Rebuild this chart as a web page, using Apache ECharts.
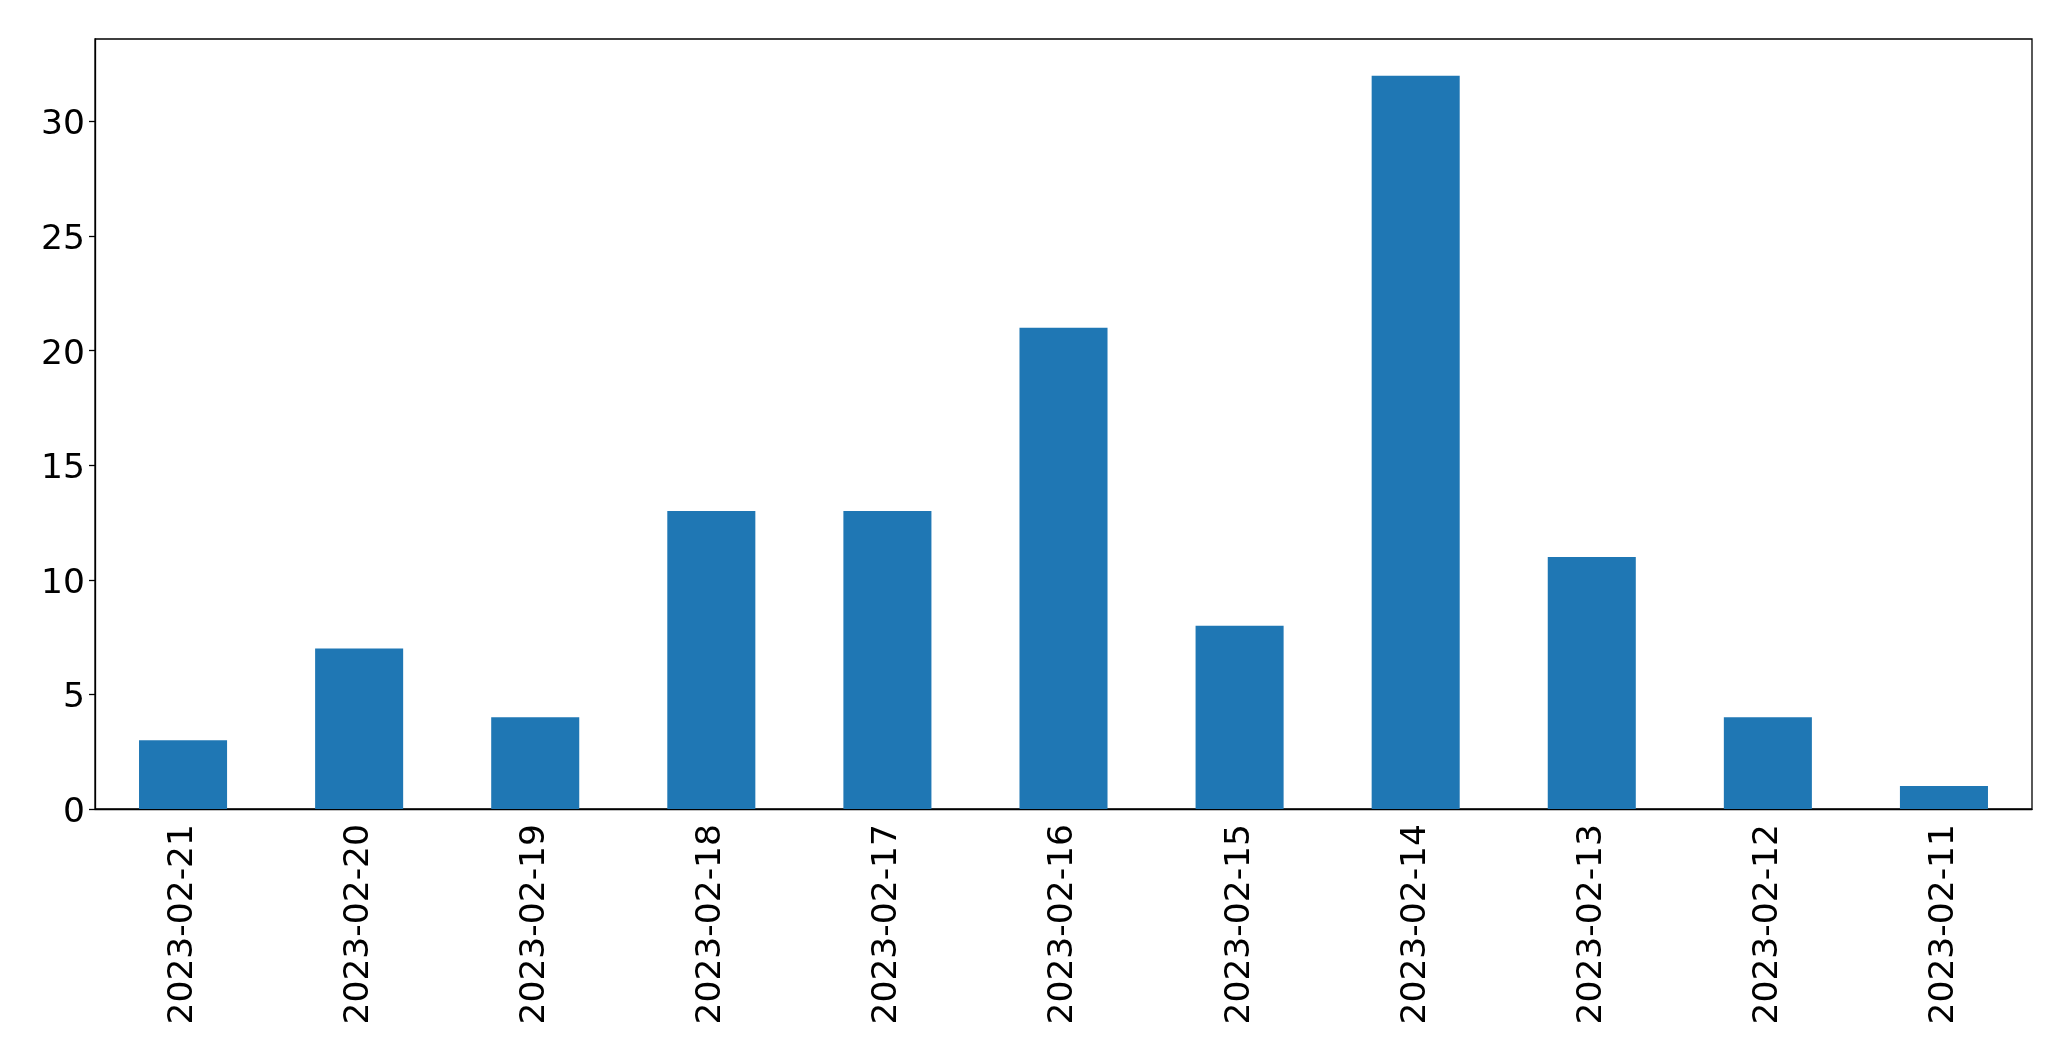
<!DOCTYPE html>
<html>
<head>
<meta charset="utf-8">
<script src="https://cdn.jsdelivr.net/npm/echarts@6/dist/echarts.min.js"></script>
<style>html,body{margin:0;padding:0;background:#fff}#c{width:2071px;height:1061px}</style>
</head>
<body>
<div id="c"></div>
<script>
const categories = ['2023-02-21','2023-02-20','2023-02-19','2023-02-18','2023-02-17','2023-02-16','2023-02-15','2023-02-14','2023-02-13','2023-02-12','2023-02-11'];
const values = [3, 7, 4, 13, 13, 21, 8, 32, 11, 4, 1];
const yTicks = [0, 5, 10, 15, 20, 25, 30];

const chart = echarts.init(document.getElementById('c'), null, {renderer: 'canvas'});
const font = 'DejaVu Sans';
chart.setOption({
  animation: false,
  backgroundColor: '#fff',
  grid: {left: 95, top: 39, right: 39, bottom: 252, show: true, borderColor: '#000', borderWidth: 1.3, backgroundColor: 'transparent'},
  xAxis: {
    type: 'category',
    data: categories,
    boundaryGap: true,
    axisLine: {lineStyle: {color: '#000', width: 1.3}},
    axisTick: {alignWithLabel: true, length: 6, lineStyle: {color: '#000', width: 1.3}},
    axisLabel: {rotate: 90, color: '#000', fontFamily: font, fontSize: 34.5, margin: 15, interval: 0}
  },
  yAxis: {
    type: 'value',
    min: 0,
    max: 33.6,
    interval: 5,
    splitLine: {show: false},
    axisLine: {show: true, lineStyle: {color: '#000', width: 1.3}},
    axisTick: {show: true, length: 6, lineStyle: {color: '#000', width: 1.3}},
    axisLabel: {color: '#000', fontFamily: font, fontSize: 34.5, margin: 10, showMaxLabel: false,
      formatter: v => yTicks.includes(v) ? '{a|' + v + '}' : '',
      rich: {a: {fontFamily: font, fontSize: 34.5, color: '#000', padding: [8, 0, 0, 0]}}}
  },
  series: [{
    type: 'bar',
    data: values,
    barWidth: '50%',
    itemStyle: {color: '#1f77b4'}
  }]
});
</script>
</body>
</html>
